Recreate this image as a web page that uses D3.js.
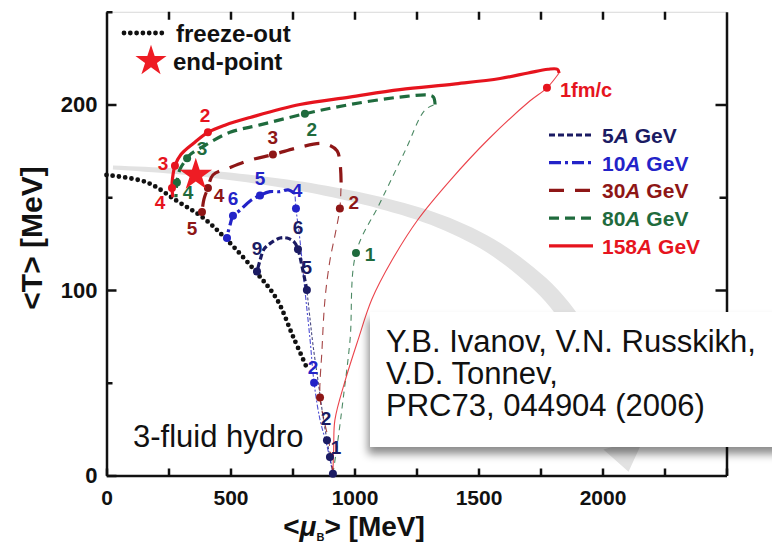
<!DOCTYPE html>
<html>
<head>
<meta charset="utf-8">
<script src="https://cdnjs.cloudflare.com/ajax/libs/d3/7.8.5/d3.min.js"></script>
<style>
    body { margin: 0; background: #fff; }
    text { font-family: "Liberation Sans", Arial, Helvetica, sans-serif; }
</style>
</head>
<body>
<div id="chart"></div>
<script>
// trajectories in the (mu_B, T) plane, both in MeV
var freezeOut = [[0,162],[163,158],[284,148],[389,139],[486,127],[607,109],[687,95],[752,75],[808,58]];

var traj5Thin   = [[913,1],[901,10],[889,19],[873,32],[853,51],[833,70],[821,84],[808,100]];
var traj5Thick  = [[808,100],[788,113],[772,122],[756,126],[728,128],[700,128],[659,125],[635,122],[619,116],[607,110]];
var traj5Dots   = [[913,1,""],[901,10,"1"],[889,19,"2"],[808,100,"5"],[772,122,"6"],[607,110,"9"]];

var traj10Thin  = [[913,1],[889,16],[861,30],[837,50],[821,73],[800,100],[780,127],[764,144],[760,152]];
var traj10Thick = [[760,152],[732,154],[700,153],[659,153],[619,151],[579,148],[538,143],[510,140],[498,135],[490,131],[486,128]];
var traj10Dots  = [[837,50,"2"],[764,144,"4"],[619,151,"5"],[510,140,"6"],[486,128,""]];

var traj30Thin  = [[913,1],[897,18],[877,30],[861,42],[869,68],[881,95],[901,116],[925,132],[941,144],[946,158]];
var traj30Thick = [[946,158],[942,168],[930,175],[900,178],[861,179],[780,177],[671,173],[579,170],[498,166],[429,162],[409,155],[393,149],[385,142]];
var traj30Dots  = [[861,42,""],[941,144,"2"],[671,173,"3"],[409,155,"4"],[385,142,"5"]];

var traj80Thin  = [[913,1],[933,19],[954,41],[982,73],[1006,120],[1103,147],[1204,175],[1284,197],[1325,200]];
var traj80Thick = [[1325,200],[1318,204],[1300,205],[1183,204],[982,200],[800,195],[619,189],[498,185],[397,178],[337,173],[325,171],[296,165],[284,158],[280,150]];
var traj80Dots  = [[1006,120,"1"],[800,195,"2"],[325,171,"3"],[284,158,"4"]];

var traj158Thin  = [[913,1],[916,15],[921,30],[962,51],[1014,73],[1070,95],[1151,116],[1256,138],[1385,159],[1538,181],[1708,202],[1776,209],[1825,217]];
var traj158Thick = [[1825,217],[1818,219],[1780,219],[1700,217],[1587,214],[1400,211],[1183,208],[980,204],[780,200],[579,193],[480,189],[409,185],[350,179],[300,173],[276,167],[266,160],[264,155],[268,150]];
var traj158Dots  = [[1776,209,"1fm/c"],[409,185,"2"],[276,167,"3"],[264,155,"4"]];

var endPoint = [360, 162];

// broad grey arrow behind the curves
var bandTrack = [[26,166],[377,163],[780,156],[1103,147],[1345,137],[1546,124],[1708,108],[1808,95],[1909,76],[1990,54],[2050,33],[2085,17]];
var bandTip = [2105, 2];

var xTicks = [0, 250, 500, 750, 1000, 1250, 1500, 1750, 2000, 2250, 2500];
var yTicks = [0, 50, 100, 150, 200, 250];

var series = [
    {name: "5",   color: "#1b1b63", dash: "6,3",        thinDash: "3,2",     thin: traj5Thin,   thick: traj5Thick,   dots: traj5Dots},
    {name: "10",  color: "#2323c8", dash: "12,4,3,4",   thinDash: "5,2,2,2", thin: traj10Thin,  thick: traj10Thick,  dots: traj10Dots},
    {name: "30",  color: "#8e1616", dash: "15,11",      thinDash: "8,6",     thin: traj30Thin,  thick: traj30Thick,  dots: traj30Dots},
    {name: "80",  color: "#1f6b3d", dash: "10,6",       thinDash: "6,5",     thin: traj80Thin,  thick: traj80Thick,  dots: traj80Dots},
    {name: "158", color: "#e6141e", dash: null,         thinDash: null,      thin: traj158Thin, thick: traj158Thick, dots: traj158Dots}
];

// where each time label sits relative to its dot
var nudge = {
    "5:1": [6,-9],  "5:2": [-1,-22], "5:5": [0,-23], "5:6": [0,-22], "5:9": [0,-23],
    "10:2": [-1,-15], "10:4": [1,-18], "10:5": [0,-17], "10:6": [0,-17],
    "30:2": [14,-6], "30:3": [0,-17], "30:4": [11,8], "30:5": [-10,16],
    "80:1": [14,2], "80:2": [7,16], "80:3": [15,-10], "80:4": [11,10],
    "158:1fm/c": [13,2], "158:2": [-3,-17], "158:3": [-12,-2], "158:4": [-12,15]
};

var width = 772, height = 545;

var svg = d3.select("#chart").append("svg")
    .attr("width", width)
    .attr("height", height);

var defs = svg.append("defs");
var shadow = defs.append("filter").attr("id", "shadow")
    .attr("x", "-10%").attr("y", "-10%").attr("width", "130%").attr("height", "140%");
shadow.append("feDropShadow")
    .attr("dx", -2).attr("dy", 7).attr("stdDeviation", 4)
    .attr("flood-color", "#000").attr("flood-opacity", 0.45);

var x = d3.scaleLinear().domain([0, 2500]).range([106.5, 726.5]);
var y = d3.scaleLinear().domain([0, 250]).range([475.5, 11.75]);

var line = d3.line()
    .x(function(d) { return x(d[0]); })
    .y(function(d) { return y(d[1]); })
    .curve(d3.curveCatmullRom.alpha(0.5));

// grey band: sample the centre line and widen it towards the head
var guide = svg.append("path").attr("d", line(bandTrack)).attr("fill", "none");
var node = guide.node(), len = node.getTotalLength();
var n = 80, left = [], right = [], hw = 0;
for (var i = 0; i <= n; i++) {
    var t = i / n;
    var p = node.getPointAtLength(t * len);
    var q = node.getPointAtLength(Math.min(len, t * len + 1));
    var p0 = node.getPointAtLength(Math.max(0, t * len - 1));
    var dx = q.x - p0.x, dy = q.y - p0.y, dl = Math.sqrt(dx * dx + dy * dy) || 1;
    hw = 2 + 9 * t;
    left.push([p.x - dy / dl * hw, p.y + dx / dl * hw]);
    right.push([p.x + dy / dl * hw, p.y - dx / dl * hw]);
}
guide.remove();
var lastL = left[left.length - 1], lastR = right[right.length - 1];
var midX = (lastL[0] + lastR[0]) / 2, midY = (lastL[1] + lastR[1]) / 2;
var headL = [midX + (lastL[0] - midX) * 1.9, midY + (lastL[1] - midY) * 1.9];
var headR = [midX + (lastR[0] - midX) * 1.9, midY + (lastR[1] - midY) * 1.9];
svg.append("path")
    .attr("d", "M" + left.concat([headL, [x(bandTip[0]), y(bandTip[1])], headR], right.reverse()).join("L") + "Z")
    .attr("fill", "#e2e2e2");

// axes
var axisFont = function(g, size) {
    g.selectAll("text")
        .attr("font-size", size)
        .attr("font-weight", "bold")
        .attr("fill", "#111")
        .style("font-family", "'Liberation Sans', Arial, sans-serif");
};

var gx = svg.append("g").attr("transform", "translate(0," + y(0) + ")")
    .call(d3.axisBottom(x).tickValues(xTicks).tickSizeInner(-7).tickSizeOuter(0).tickPadding(15)
        .tickFormat(function(d) { return (d % 500 === 0 && d < 2500) ? d : ""; }));
gx.call(axisFont, 21);

var gxTop = svg.append("g").attr("transform", "translate(0," + y(250) + ")")
    .call(d3.axisTop(x).tickValues(xTicks.slice(1, -1)).tickSizeInner(-8).tickSizeOuter(0).tickFormat(""));
gxTop.select(".domain").attr("stroke", "#d8d8d8").attr("stroke-width", 1);

var gy = svg.append("g").attr("transform", "translate(" + x(0) + ",0)")
    .call(d3.axisLeft(y).tickValues(yTicks).tickSizeInner(-10).tickSizeOuter(0).tickPadding(9)
        .tickFormat(function(d) { return (d % 100 === 0 && d < 250) ? d : ""; }));
gy.call(axisFont, 22);

var gyRight = svg.append("g").attr("transform", "translate(" + x(2500) + ",0)")
    .call(d3.axisRight(y).tickValues(yTicks.slice(1, -1)).tickSizeInner(-11).tickSizeOuter(0).tickFormat(""));

[gx, gy, gyRight].forEach(function(g) {
    g.select(".domain").attr("stroke", "#111").attr("stroke-width", 2.5);
});
[gx, gxTop, gy, gyRight].forEach(function(g) {
    g.selectAll(".tick line").attr("stroke", "#111").attr("stroke-width", 2.5);
});
gy.selectAll(".tick line").attr("x2", function(d) { return d % 100 === 0 ? 10 : 6; });
gyRight.selectAll(".tick line").attr("x2", function(d) { return d % 100 === 0 ? -11 : -7; });

// freeze-out line
svg.append("path")
    .attr("d", line(freezeOut))
    .attr("fill", "none")
    .attr("stroke", "#111")
    .attr("stroke-width", 4.8)
    .attr("stroke-linecap", "round")
    .attr("stroke-dasharray", "0,6.3");

// trajectories: thin early stage, thick later stage
series.forEach(function(s) {
    svg.append("path")
        .attr("d", line(s.thin))
        .attr("fill", "none")
        .attr("stroke", s.color)
        .attr("stroke-opacity", 0.8)
        .attr("stroke-width", 1.1)
        .attr("stroke-dasharray", s.thinDash);
});
series.slice().reverse().forEach(function(s) {
    svg.append("path")
        .attr("d", line(s.thick))
        .attr("fill", "none")
        .attr("stroke", s.color)
        .attr("stroke-width", 3.2)
        .attr("stroke-dasharray", s.dash);
});

series.forEach(function(s) {
    var g = svg.append("g");
    g.selectAll("circle")
        .data(s.dots)
        .enter().append("circle")
        .attr("cx", function(d) { return x(d[0]); })
        .attr("cy", function(d) { return y(d[1]); })
        .attr("r", 4)
        .attr("fill", s.color);

    g.selectAll("text")
        .data(s.dots.filter(function(d) { return d[2] !== ""; }))
        .enter().append("text")
        .attr("x", function(d) { return x(d[0]) + nudge[s.name + ":" + d[2]][0]; })
        .attr("y", function(d) { return y(d[1]) + nudge[s.name + ":" + d[2]][1]; })
        .attr("text-anchor", function(d) { return d[2].length > 1 ? "start" : "middle"; })
        .attr("dominant-baseline", "central")
        .attr("font-size", function(d) { return d[2].length > 1 ? 20 : 19; })
        .attr("font-weight", "bold")
        .attr("fill", s.color)
        .text(function(d) { return d[2]; });
});

var star = d3.symbol().type(d3.symbolStar);
svg.append("path")
    .attr("d", star.size(330)())
    .attr("transform", "translate(" + x(endPoint[0]) + "," + y(endPoint[1]) + ")")
    .attr("fill", "#ee1c24");

// legend, top left
svg.append("line")
    .attr("x1", 124).attr("x2", 166).attr("y1", 33).attr("y2", 33)
    .attr("stroke", "#111").attr("stroke-width", 4.8)
    .attr("stroke-linecap", "round").attr("stroke-dasharray", "0,6.3");
svg.append("text").attr("x", 176).attr("y", 33)
    .attr("dominant-baseline", "central")
    .attr("font-size", 24).attr("font-weight", "bold").attr("fill", "#111")
    .text("freeze-out");
svg.append("path")
    .attr("d", star.size(300)())
    .attr("transform", "translate(151,61)")
    .attr("fill", "#ee1c24");
svg.append("text").attr("x", 173).attr("y", 61)
    .attr("dominant-baseline", "central")
    .attr("font-size", 24).attr("font-weight", "bold").attr("fill", "#111")
    .text("end-point");

// legend, energies
var leg = svg.append("g").selectAll("g")
    .data(series)
    .enter().append("g")
    .attr("transform", function(d, i) { return "translate(549," + (135 + i * 27.7) + ")"; });
leg.append("line")
    .attr("x1", 0).attr("x2", 44)
    .attr("stroke", function(d) { return d.color; })
    .attr("stroke-width", 3.2)
    .attr("stroke-dasharray", function(d) { return d.dash; });
var lt = leg.append("text")
    .attr("x", 53)
    .attr("dominant-baseline", "central")
    .attr("font-size", 21)
    .attr("font-weight", "bold")
    .attr("fill", function(d) { return d.color; });
lt.append("tspan").text(function(d) { return d.name; });
lt.append("tspan").attr("font-style", "italic").text("A");
lt.append("tspan").text(" GeV");

// axis titles
var xt = svg.append("text")
    .attr("x", 354).attr("y", 536)
    .attr("text-anchor", "middle")
    .attr("font-size", 28).attr("font-weight", "bold").attr("fill", "#111");
xt.append("tspan").text("<");
xt.append("tspan").attr("font-style", "italic").text("μ");
xt.append("tspan").attr("font-size", 11).attr("dy", 5).text("B");
xt.append("tspan").attr("dy", -5).text("> [MeV]");

svg.append("text")
    .attr("transform", "translate(42,238) rotate(-90)")
    .attr("text-anchor", "middle")
    .attr("font-size", 30).attr("font-weight", "bold").attr("fill", "#111")
    .text("<T> [MeV]");

svg.append("text")
    .attr("x", 133).attr("y", 447)
    .attr("font-size", 31).attr("fill", "#111")
    .text("3-fluid hydro");

// reference box
svg.append("rect")
    .attr("x", 370).attr("y", 312)
    .attr("width", 430).attr("height", 135)
    .attr("fill", "#fff")
    .attr("filter", "url(#shadow)");
var refLines = ["Y.B. Ivanov, V.N. Russkikh,", "V.D. Tonnev,", "PRC73, 044904 (2006)"];
svg.append("g").selectAll("text")
    .data(refLines)
    .enter().append("text")
    .attr("x", 386)
    .attr("y", function(d, i) { return 352 + i * 32; })
    .attr("font-size", 31)
    .attr("fill", "#111")
    .text(function(d) { return d; });
</script>
</body>
</html>
